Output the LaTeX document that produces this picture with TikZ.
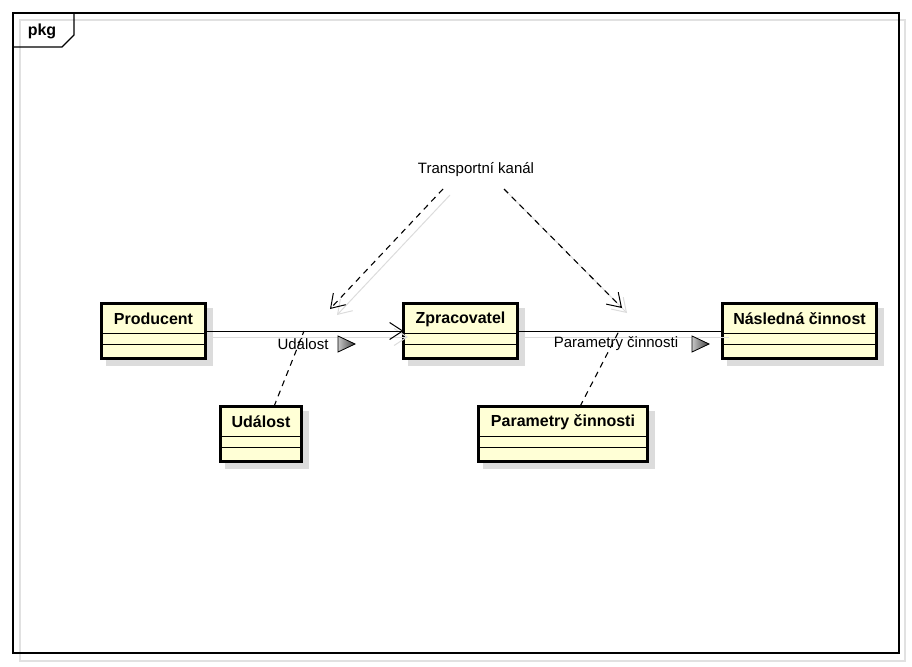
\documentclass[tikz,border=0pt]{standalone}
\usepackage{fontspec}
\setmainfont{Liberation Sans}
\usetikzlibrary{arrows.meta,calc}
\definecolor{clsfill}{RGB}{255,255,214}
\definecolor{shd}{RGB}{220,220,220}
\definecolor{frshd}{RGB}{225,225,225}
\tikzset{
  clsbox/.style={draw=black,line width=3pt,fill=clsfill,inner sep=0pt,outer sep=0pt,anchor=north west},
  clstitle/.style={font=\fontsize{16}{18}\selectfont\bfseries,inner sep=0pt},
  lbl/.style={font=\fontsize{15}{18}\selectfont,inner sep=0pt},
  assoc/.style={line width=1pt},
  dep/.style={line width=1.1pt,dash pattern=on 6pt off 5pt},
  openarr/.style={-{Straight Barb[length=13pt,width=17pt,line width=1pt]}},
  dirtri/.style={draw=black,line width=0.8pt,left color=gray!45,right color=black!75},
}
\newcommand{\umlcls}[6]{%
  \fill[shd] (#2+6,#3+6) rectangle (#4+6,#5+6);
  \node[clsbox,minimum width=#4-#2-3,minimum height=#5-#3-3] (#1) at (#2+1.5,#3+1.5) {};
  \node[clstitle] (#1-t) at ({(#2+#4)/2},#3+17) {#6};
  \draw[line width=1pt] (#2+1.5,#3+31) -- (#4-1.5,#3+31);
  \draw[line width=1pt] (#2+1.5,#3+42) -- (#4-1.5,#3+42);
}
\begin{document}
\begin{tikzpicture}[x=1pt,y=-1pt]
\useasboundingbox (0,0) rectangle (912,666);
% frame
\draw[frshd,line width=1.2pt] (20,20) rectangle (905,661);
\draw[black,line width=1.3pt] (13,13) rectangle (899,653);
\draw[black,line width=1.3pt] (13,47) -- (62,47) -- (74,35) -- (74,13);
\node[font=\fontsize{16}{18}\selectfont\bfseries,inner sep=0pt] (pkg) at (42,31) {pkg};
% classes
\umlcls{prod}{100}{302}{207}{360}{Producent}
\umlcls{udal}{219}{405}{303}{463}{Událost}
\umlcls{zprac}{402}{302}{519}{360}{Zpracovatel}
\umlcls{nasl}{721}{302}{878}{360}{Následná činnost}
\umlcls{param}{477}{405}{649}{463}{Parametry činnosti}
% transport channel
\node[lbl] (tk) at (476,170) {Transportní kanál};
\coordinate (tkL) at (443,189);
\coordinate (tkR) at (504,189);
\coordinate (aL) at (330,309);
\coordinate (aR) at (622,308);
\coordinate (aLs) at (337,315);
\coordinate (aRs) at (627,313);
\coordinate (tkLs) at (450,195);
\coordinate (tkRs) at (509,194);
% connector shadows
\draw[shd,line width=1pt] (213,337) -- (402,337);
\draw[shd,line width=1pt,openarr] (402,337) -- (408,337);
\draw[shd,line width=1pt] (525,337) -- (729,337);
\draw[shd,line width=1pt,openarr] (tkLs) -- (aLs);
\draw[shd,line width=1pt,openarr] (tkRs) -- (aRs);
% associations
\draw[assoc,openarr] (prod) -- (zprac);
\draw[assoc] (zprac) -- (nasl);
\node[lbl] (l1) at (303,344) {Událost};
\node[lbl] (l2) at (616,344) {Parametry činnosti};
\fill[dirtri] (338,336) -- (355,344) -- (338,352) -- cycle;
\fill[dirtri] (692,336) -- (709,344) -- (692,352) -- cycle;
% dependencies
\coordinate (m1) at (304,331);
\coordinate (m2) at (619,331);
\draw[dep] ([xshift=13pt]udal.north) -- (m1);
\draw[dep] ([xshift=17pt]param.north) -- (m2);
\draw[dep,openarr] (tkL) -- (aL);
\draw[dep,openarr] (tkR) -- (aR);
\end{tikzpicture}
\end{document}
